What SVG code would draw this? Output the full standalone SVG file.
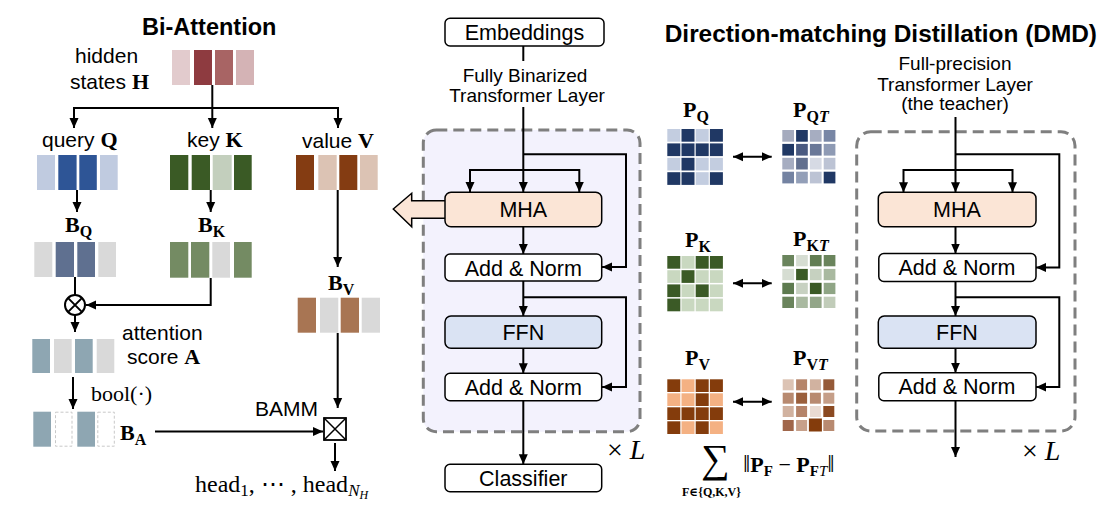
<svg xmlns="http://www.w3.org/2000/svg" width="1108" height="508" viewBox="0 0 1108 508">
<defs>
<marker id="ah" viewBox="0 0 10 10" refX="10" refY="5" markerWidth="10" markerHeight="10" markerUnits="userSpaceOnUse" orient="auto">
<path d="M0,0.5 L10,5 L0,9.5 z" fill="#000"/>
</marker>
<marker id="ah2" viewBox="0 0 10 10" refX="10" refY="5" markerWidth="10" markerHeight="10" markerUnits="userSpaceOnUse" orient="auto-start-reverse">
<path d="M0,0.5 L10,5 L0,9.5 z" fill="#000"/>
</marker>
</defs>
<style>
.sans{font-family:"Liberation Sans",Arial,sans-serif;fill:#000}
.ttl{font-family:"Liberation Sans",Arial,sans-serif;font-weight:bold;fill:#000}
.lbl{font-size:21px}
.ann{font-size:19px}
.bx{font-size:21.5px}
.ser{font-family:"Liberation Serif","DejaVu Serif","Times New Roman",serif;fill:#000}
.b{font-weight:bold}
.it{font-style:italic}
.ln{fill:none;stroke:#000;stroke-width:2}
.ar{fill:none;stroke:#000;stroke-width:2;marker-end:url(#ah)}
.box{stroke:#000;stroke-width:1.5}
.dash{stroke:#7f7f7f;stroke-width:3;stroke-dasharray:11 6}
.g{fill:#d9d9d9}
</style>
<rect width="1108" height="508" fill="#fff"/>

<!-- Titles -->
<text class="ttl" x="142" y="35" font-size="23.5">Bi-Attention</text>
<text class="ttl" x="1097" y="42" text-anchor="end" font-size="24.4">Direction-matching Distillation (DMD)</text>

<!-- Left panel nodes -->
<g id="hidden-states">
<text class="sans lbl" x="75" y="63">hidden</text>
<text class="sans lbl" x="70" y="89">states <tspan class="ser b" font-size="22">H</tspan></text>
<rect x="172" y="50" width="18" height="35" fill="#e2cbcd"/>
<rect x="194" y="50" width="18" height="35" fill="#8e3b40"/>
<rect x="215" y="50" width="18" height="35" fill="#a86464"/>
<rect x="236" y="50" width="18" height="35" fill="#d4b3b5"/>
</g>
<g id="query">
<text class="sans lbl" x="42" y="147">query <tspan class="ser b" font-size="22">Q</tspan></text>
<rect x="37" y="155" width="18" height="35" fill="#c0cbe0"/>
<rect x="58.3" y="155" width="18.3" height="35" fill="#2e5596"/>
<rect x="79.3" y="155" width="17.5" height="35" fill="#2e5596"/>
<rect x="100" y="155" width="17.7" height="35" fill="#c0cbe0"/>
</g>
<g id="key">
<text class="sans lbl" x="187" y="147">key <tspan class="ser b" font-size="22">K</tspan></text>
<rect x="170" y="155" width="18.3" height="35" fill="#3a5a25"/>
<rect x="191.7" y="155" width="18.3" height="35" fill="#3a5a25"/>
<rect x="212.7" y="155" width="19" height="35" fill="#c3cfbd"/>
<rect x="234" y="155" width="17.7" height="35" fill="#3a5a25"/>
</g>
<g id="value">
<text class="sans lbl" x="302" y="148">value <tspan class="ser b" font-size="22">V</tspan></text>
<rect x="296" y="155" width="18" height="35" fill="#843c12"/>
<rect x="318.3" y="155" width="18.4" height="35" fill="#dcc3b4"/>
<rect x="339.3" y="155" width="18" height="35" fill="#843c12"/>
<rect x="360" y="155" width="17.7" height="35" fill="#dcc3b4"/>
</g>
<g id="bq">
<text class="ser b" font-size="22" x="65" y="232">B<tspan font-size="16" dy="5">Q</tspan></text>
<rect x="34.3" y="242" width="18" height="35" class="g"/>
<rect x="55.7" y="242" width="18.3" height="35" fill="#5f7090"/>
<rect x="77.3" y="242" width="17.7" height="35" fill="#5f7090"/>
<rect x="98.3" y="242" width="17.7" height="35" class="g"/>
</g>
<g id="bk">
<text class="ser b" font-size="22" x="198" y="232">B<tspan font-size="16" dy="5">K</tspan></text>
<rect x="170" y="242" width="18.3" height="35.7" fill="#748b63"/>
<rect x="191" y="242" width="18.3" height="35.7" fill="#748b63"/>
<rect x="212.3" y="242" width="17.7" height="35.7" class="g"/>
<rect x="234" y="242" width="17.7" height="35.7" fill="#748b63"/>
</g>
<g id="otimes">
<circle cx="75" cy="305" r="10" fill="#fff" stroke="#000" stroke-width="2"/>
<path d="M67.9,297.9 L82.1,312.1 M82.1,297.9 L67.9,312.1" stroke="#000" stroke-width="2"/>
</g>
<g id="score-a">
<text class="sans lbl" x="122" y="340">attention</text>
<text class="sans lbl" x="127" y="364">score <tspan class="ser b" font-size="22">A</tspan></text>
<rect x="32.3" y="339" width="17.7" height="34" fill="#8ea6b2"/>
<rect x="54" y="339" width="17.7" height="34" class="g"/>
<rect x="75" y="339" width="17.7" height="34" fill="#8ea6b2"/>
<rect x="96.7" y="339" width="17.6" height="34" class="g"/>
</g>
<g id="ba">
<text class="ser" font-size="22" x="91" y="401">bool(·)</text>
<rect x="33.3" y="411.7" width="17.7" height="35" fill="#8ea6b2"/>
<rect x="55.5" y="412.2" width="16.5" height="34" fill="#fff" stroke="#c8c8c8" stroke-width="1" stroke-dasharray="3 2"/>
<rect x="77.3" y="411.7" width="17.7" height="35" fill="#8ea6b2"/>
<rect x="97.8" y="412.2" width="16.5" height="34" fill="#fff" stroke="#c8c8c8" stroke-width="1" stroke-dasharray="3 2"/>
<text class="ser b" font-size="22" x="120" y="440">B<tspan font-size="16" dy="5">A</tspan></text>
</g>
<g id="bv">
<text class="ser b" font-size="22" x="328" y="290">B<tspan font-size="16" dy="5">V</tspan></text>
<rect x="297.7" y="297.7" width="18.3" height="35" fill="#a87553"/>
<rect x="320" y="297.7" width="18.3" height="35" class="g"/>
<rect x="340.7" y="297.7" width="18.3" height="35" fill="#a87553"/>
<rect x="361.7" y="297.7" width="18.3" height="35" class="g"/>
</g>
<g id="bamm">
<text class="sans lbl" x="255" y="416">BAMM</text>
<rect x="324" y="418" width="22" height="22" fill="#fff" stroke="#000" stroke-width="1.8"/>
<path d="M324,418 L346,440 M346,418 L324,440" stroke="#000" stroke-width="1.5"/>
</g>
<g id="heads">
<text class="ser" font-size="24" x="195" y="492">head<tspan font-size="17" dy="4">1</tspan><tspan dy="-4">, ⋯ , head</tspan><tspan font-size="17" dy="4" class="it">N</tspan><tspan font-size="12" dy="3" class="it">H</tspan></text>
</g>

<!-- Middle column -->
<g id="binarized-layer">
<rect x="423.3" y="130" width="216.7" height="301.7" rx="13" fill="#f3f2fd" class="dash"/>
</g>
<g id="big-arrow">
<polygon points="393.3,209 411.7,193.3 411.7,200.7 450,200.7 450,218.3 411.7,218.3 411.7,226.7" fill="#fbe5d6" stroke="#000" stroke-width="1.5" stroke-linejoin="miter"/>
</g>
<g id="embeddings">
<rect x="445" y="18.3" width="159" height="27.7" rx="5" fill="#fff" class="box"/>
<text class="sans bx" x="524.5" y="40" text-anchor="middle">Embeddings</text>
</g>
<g id="fbtl-label">
<text class="sans ann" x="525" y="82" text-anchor="middle">Fully Binarized</text>
<text class="sans ann" x="527" y="102" text-anchor="middle">Transformer Layer</text>
</g>
<g id="mha-b">
<rect x="445" y="192.3" width="156.7" height="34.4" rx="6" fill="#fbe5d6" class="box"/>
<text class="sans bx" x="523.3" y="217" text-anchor="middle">MHA</text>
</g>
<g id="addnorm1-b">
<rect x="445" y="254" width="156.7" height="27" rx="5" fill="#fff" class="box"/>
<text class="sans bx" x="523.3" y="275.5" text-anchor="middle">Add &amp; Norm</text>
</g>
<g id="ffn-b">
<rect x="445" y="316" width="156.7" height="32.3" rx="6" fill="#dae3f3" class="box"/>
<text class="sans bx" x="523.3" y="340" text-anchor="middle">FFN</text>
</g>
<g id="addnorm2-b">
<rect x="445" y="373.3" width="156.7" height="27.4" rx="5" fill="#fff" class="box"/>
<text class="sans bx" x="523.3" y="395" text-anchor="middle">Add &amp; Norm</text>
</g>
<g id="classifier">
<rect x="445" y="464.3" width="156.7" height="27.4" rx="5" fill="#fff" class="box"/>
<text class="sans bx" x="523.3" y="486" text-anchor="middle">Classifier</text>
</g>
<text class="ser" font-size="28" x="607" y="459">× <tspan class="it">L</tspan></text>

<!-- Matrices -->
<g id="pq">
<text class="ser b" font-size="22" x="683" y="117">P<tspan font-size="16" dy="5">Q</tspan></text>
<g fill="#203864">
<rect x="667.3" y="129" width="13" height="12.7" fill="#c3cde0"/><rect x="681.5" y="129" width="13" height="12.7"/><rect x="695.7" y="129" width="13" height="12.7" fill="#c3cde0"/><rect x="709.9" y="129" width="13" height="12.7"/>
<rect x="667.3" y="143.4" width="13" height="12.7"/><rect x="681.5" y="143.4" width="13" height="12.7"/><rect x="695.7" y="143.4" width="13" height="12.7"/><rect x="709.9" y="143.4" width="13" height="12.7"/>
<rect x="667.3" y="157.8" width="13" height="12.7" fill="#c3cde0"/><rect x="681.5" y="157.8" width="13" height="12.7"/><rect x="695.7" y="157.8" width="13" height="12.7" fill="#c3cde0"/><rect x="709.9" y="157.8" width="13" height="12.7" fill="#c3cde0"/>
<rect x="667.3" y="172.2" width="13" height="12.7"/><rect x="681.5" y="172.2" width="13" height="12.7"/><rect x="695.7" y="172.2" width="13" height="12.7" fill="#c3cde0"/><rect x="709.9" y="172.2" width="13" height="12.7"/>
</g>
</g>
<g id="pqt">
<text class="ser b" font-size="22" x="793" y="117">P<tspan font-size="16" dy="5">Q</tspan><tspan class="it" font-size="16">T</tspan></text>
<rect x="782.3" y="130" width="11.7" height="11.7" fill="#a5abbe"/><rect x="796.1" y="130" width="11.7" height="11.7" fill="#203864"/><rect x="809.9" y="130" width="11.7" height="11.7" fill="#a6adc1"/><rect x="823.7" y="130" width="11.7" height="11.7" fill="#7886a5"/>
<rect x="782.3" y="143.9" width="11.7" height="11.7" fill="#203864"/><rect x="796.1" y="143.9" width="11.7" height="11.7" fill="#4a5a80"/><rect x="809.9" y="143.9" width="11.7" height="11.7" fill="#6a7898"/><rect x="823.7" y="143.9" width="11.7" height="11.7" fill="#8e9ab4"/>
<rect x="782.3" y="157.8" width="11.7" height="11.7" fill="#a6adc1"/><rect x="796.1" y="157.8" width="11.7" height="11.7" fill="#62708f"/><rect x="809.9" y="157.8" width="11.7" height="11.7" fill="#d6dae4"/><rect x="823.7" y="157.8" width="11.7" height="11.7" fill="#bcc3d4"/>
<rect x="782.3" y="171.7" width="11.7" height="11.7" fill="#7483a2"/><rect x="796.1" y="171.7" width="11.7" height="11.7" fill="#939fb8"/><rect x="809.9" y="171.7" width="11.7" height="11.7" fill="#bcc3d4"/><rect x="823.7" y="171.7" width="11.7" height="11.7" fill="#203864"/>
</g>
<g id="pk">
<text class="ser b" font-size="22" x="685" y="247">P<tspan font-size="16" dy="5">K</tspan></text>
<g fill="#3b5a26">
<rect x="667.3" y="256" width="13" height="12.7"/><rect x="681.5" y="256" width="13" height="12.7" fill="#c9d8c0"/><rect x="695.7" y="256" width="13" height="12.7"/><rect x="709.9" y="256" width="13" height="12.7"/>
<rect x="667.3" y="270.2" width="13" height="12.7" fill="#c9d8c0"/><rect x="681.5" y="270.2" width="13" height="12.7"/><rect x="695.7" y="270.2" width="13" height="12.7" fill="#c9d8c0"/><rect x="709.9" y="270.2" width="13" height="12.7" fill="#c9d8c0"/>
<rect x="667.3" y="284.4" width="13" height="12.7"/><rect x="681.5" y="284.4" width="13" height="12.7" fill="#c9d8c0"/><rect x="695.7" y="284.4" width="13" height="12.7"/><rect x="709.9" y="284.4" width="13" height="12.7" fill="#c9d8c0"/>
<rect x="667.3" y="298.6" width="13" height="12.7"/><rect x="681.5" y="298.6" width="13" height="12.7" fill="#c9d8c0"/><rect x="695.7" y="298.6" width="13" height="12.7" fill="#c9d8c0"/><rect x="709.9" y="298.6" width="13" height="12.7" fill="#c9d8c0"/>
</g>
</g>
<g id="pkt">
<text class="ser b" font-size="22" x="793" y="246">P<tspan font-size="16" dy="5">K</tspan><tspan class="it" font-size="16">T</tspan></text>
<rect x="782.3" y="255" width="11.7" height="11.3" fill="#6a845c"/><rect x="796.1" y="255" width="11.7" height="11.3" fill="#d6ddd2"/><rect x="809.9" y="255" width="11.7" height="11.3" fill="#617d53"/><rect x="823.7" y="255" width="11.7" height="11.3" fill="#6a845c"/>
<rect x="782.3" y="268.9" width="11.7" height="11.3" fill="#d6ddd2"/><rect x="796.1" y="268.9" width="11.7" height="11.3" fill="#3b5a26"/><rect x="809.9" y="268.9" width="11.7" height="11.3" fill="#c6d1c0"/><rect x="823.7" y="268.9" width="11.7" height="11.3" fill="#a9b9a0"/>
<rect x="782.3" y="282.8" width="11.7" height="11.3" fill="#5d7a4f"/><rect x="796.1" y="282.8" width="11.7" height="11.3" fill="#c7d1c1"/><rect x="809.9" y="282.8" width="11.7" height="11.3" fill="#3b5a26"/><rect x="823.7" y="282.8" width="11.7" height="11.3" fill="#8fa585"/>
<rect x="782.3" y="296.7" width="11.7" height="11.3" fill="#6a845c"/><rect x="796.1" y="296.7" width="11.7" height="11.3" fill="#a9b9a0"/><rect x="809.9" y="296.7" width="11.7" height="11.3" fill="#93a689"/><rect x="823.7" y="296.7" width="11.7" height="11.3" fill="#c1ccb9"/>
</g>
<g id="pv">
<text class="ser b" font-size="22" x="685" y="365">P<tspan font-size="16" dy="5">V</tspan></text>
<g fill="#843c0c">
<rect x="667.3" y="379.3" width="13" height="12.7"/><rect x="681.5" y="379.3" width="13" height="12.7" fill="#f4b183"/><rect x="695.7" y="379.3" width="13" height="12.7"/><rect x="709.9" y="379.3" width="13" height="12.7"/>
<rect x="667.3" y="393.3" width="13" height="12.7" fill="#f4b183"/><rect x="681.5" y="393.3" width="13" height="12.7" fill="#f4b183"/><rect x="695.7" y="393.3" width="13" height="12.7"/><rect x="709.9" y="393.3" width="13" height="12.7" fill="#f4b183"/>
<rect x="667.3" y="407.3" width="13" height="12.7"/><rect x="681.5" y="407.3" width="13" height="12.7"/><rect x="695.7" y="407.3" width="13" height="12.7"/><rect x="709.9" y="407.3" width="13" height="12.7"/>
<rect x="667.3" y="421.3" width="13" height="12.7"/><rect x="681.5" y="421.3" width="13" height="12.7" fill="#f4b183"/><rect x="695.7" y="421.3" width="13" height="12.7"/><rect x="709.9" y="421.3" width="13" height="12.7" fill="#f4b183"/>
</g>
</g>
<g id="pvt">
<text class="ser b" font-size="22" x="793" y="365">P<tspan font-size="16" dy="5">V</tspan><tspan class="it" font-size="16">T</tspan></text>
<rect x="782.7" y="379.3" width="11" height="11" fill="#dcc3b4"/><rect x="796.1" y="379.3" width="11" height="11" fill="#b5846a"/><rect x="809.9" y="379.3" width="11" height="11" fill="#d1b2a0"/><rect x="823.3" y="379.3" width="11" height="11" fill="#955a38"/>
<rect x="782.7" y="392.7" width="11" height="11" fill="#b88a70"/><rect x="796.1" y="392.7" width="11" height="11" fill="#9a5f3c"/><rect x="809.9" y="392.7" width="11" height="11" fill="#b88a70"/><rect x="823.3" y="392.7" width="11" height="11" fill="#c59e88"/>
<rect x="782.7" y="406" width="11" height="11" fill="#d1b2a0"/><rect x="796.1" y="406" width="11" height="11" fill="#b5846a"/><rect x="809.9" y="406" width="11" height="11" fill="#eadbd2"/><rect x="823.3" y="406" width="11" height="11" fill="#8b4a22"/>
<rect x="782.7" y="420" width="11" height="11" fill="#a0664a"/><rect x="796.1" y="420" width="11" height="11" fill="#c7a08a"/><rect x="808.9" y="418.5" width="13" height="13" fill="#843c0c"/><rect x="823.3" y="420" width="11" height="11" fill="#b88a70"/>
</g>
<g id="dmd-loss">
<text class="ser" font-size="40" x="701" y="472">∑</text>
<text class="ser b" font-size="12" x="682" y="496">F∈{Q,K,V}</text>
<text class="ser" font-size="22" x="743" y="472"><tspan font-size="26">‖</tspan><tspan class="b">P</tspan><tspan class="b" font-size="15" dy="4">F</tspan><tspan dy="-4"> − </tspan><tspan class="b">P</tspan><tspan class="b" font-size="15" dy="4">F</tspan><tspan class="it" font-size="15">T</tspan><tspan dy="-4" font-size="26">‖</tspan></text>
</g>

<!-- Right column -->
<g id="teacher-layer">
<rect x="856.7" y="131.7" width="218.3" height="299.3" rx="14" fill="#fff" class="dash"/>
</g>
<g id="teacher-label">
<text class="sans ann" x="955" y="70" text-anchor="middle">Full-precision</text>
<text class="sans ann" x="955" y="91" text-anchor="middle">Transformer Layer</text>
<text class="sans ann" x="955" y="110" text-anchor="middle">(the teacher)</text>
</g>
<g id="mha-t">
<rect x="878.3" y="192.3" width="157.7" height="34.4" rx="6" fill="#fbe5d6" class="box"/>
<text class="sans bx" x="957" y="217" text-anchor="middle">MHA</text>
</g>
<g id="addnorm1-t">
<rect x="878.8" y="253.5" width="157.2" height="28" rx="5" fill="#fff" class="box"/>
<text class="sans bx" x="957" y="275" text-anchor="middle">Add &amp; Norm</text>
</g>
<g id="ffn-t">
<rect x="878.3" y="316" width="157.7" height="32.3" rx="6" fill="#dae3f3" class="box"/>
<text class="sans bx" x="957" y="340" text-anchor="middle">FFN</text>
</g>
<g id="addnorm2-t">
<rect x="878.8" y="372.7" width="157.2" height="28" rx="5" fill="#fff" class="box"/>
<text class="sans bx" x="957" y="394" text-anchor="middle">Add &amp; Norm</text>
</g>
<text class="ser" font-size="28" x="1022" y="460">× <tspan class="it">L</tspan></text>

<!-- Connectors -->
<g id="connectors">
<path class="ln" d="M74,108 H338"/>
<path class="ar" d="M212.3,85 V128"/>
<path class="ar" d="M74,107 V128"/>
<path class="ar" d="M338,107 V128"/>
<path class="ar" d="M77,190 V212"/>
<path class="ar" d="M210.7,190 V212"/>
<path class="ln" d="M75,277 V295"/>
<path class="ar" d="M210.7,278 V305 H86"/>
<path class="ar" d="M75,315 V332"/>
<path class="ar" d="M73,377 V409"/>
<path class="ar" d="M155,431.5 H323"/>
<path class="ar" d="M337.7,190 V267"/>
<path class="ar" d="M337.7,333 V408"/>
<path class="ar" d="M335,443 V471"/>

<path class="ln" d="M523.3,46 V61"/>
<path class="ar" d="M523.3,107 V192"/>
<path class="ar" d="M523.3,154.3 H626 V267 H602"/>
<path class="ln" d="M470,170 H579.3"/>
<path class="ar" d="M470,169 V192"/>
<path class="ar" d="M579.3,169 V192"/>
<path class="ar" d="M523.3,227 V254"/>
<path class="ar" d="M523.3,281 V316"/>
<path class="ar" d="M523.3,297.3 H626 V387 H602"/>
<path class="ar" d="M523.3,348.3 V373.3"/>
<path class="ar" d="M523.3,400.7 V464.3"/>

<path class="ln" d="M733,156.7 H771.7" marker-start="url(#ah2)" marker-end="url(#ah2)"/>
<path class="ln" d="M733,283.3 H771.7" marker-start="url(#ah2)" marker-end="url(#ah2)"/>
<path class="ln" d="M733,401.7 H771.7" marker-start="url(#ah2)" marker-end="url(#ah2)"/>

<path class="ar" d="M955.5,117 V192.3"/>
<path class="ar" d="M955.5,154.3 H1059.3 V267.5 H1036"/>
<path class="ln" d="M903.5,170 H1012.5"/>
<path class="ar" d="M903.5,169 V192.3"/>
<path class="ar" d="M1012.5,169 V192.3"/>
<path class="ar" d="M955.5,226.7 V253.5"/>
<path class="ar" d="M955.5,281.5 V316"/>
<path class="ar" d="M955.5,297.3 H1059.3 V387 H1036"/>
<path class="ar" d="M955.5,348.3 V372.7"/>
<path class="ar" d="M955.5,400.7 V457"/>
</g>
</svg>
